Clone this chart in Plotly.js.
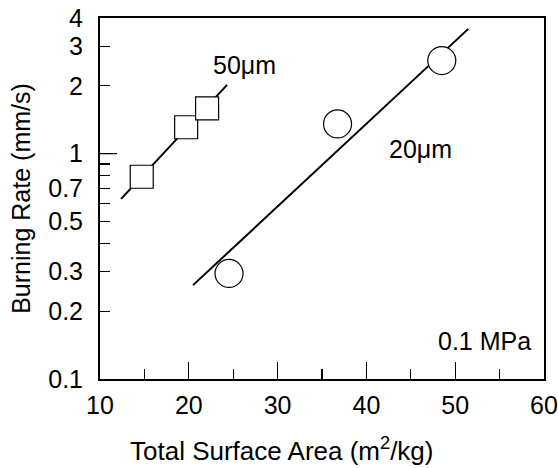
<!DOCTYPE html>
<html>
<head>
<meta charset="utf-8">
<script src="https://cdn.plot.ly/plotly-3.0.1.min.js"></script>
<style>html,body{margin:0;padding:0;background:#fff;}#chart{width:558px;height:468px;}</style>
</head>
<body>
<div id="chart"></div>
<script>
// 50 µm particles (squares) and fitted line
const area50 = [14.7, 19.7, 22.06];
const rate50 = [0.79, 1.31, 1.59];
const fitArea50 = [12.38, 24.31];
const fitRate50 = [0.63, 2.02];
// 20 µm particles (circles) and fitted line
const area20 = [24.53, 36.75, 48.49];
const rate20 = [0.294, 1.355, 2.59];
const fitArea20 = [20.48, 51.48];
const fitRate20 = [0.261, 3.58];
// axis ticks
const yTickVals = [0.1, 0.2, 0.3, 0.5, 0.7, 1, 2, 3, 4];
const yTickText = ['0.1', '0.2', '0.3', '0.5', '0.7', '1', '2', '3', '4'];
const yMinorVals = [0.4, 0.6, 0.8, 0.9];
const xTickVals = [10, 20, 30, 40, 50, 60];

const font = 'Liberation Sans, Arial, Helvetica, sans-serif';

const traces = [
  {x: fitArea50, y: fitRate50, mode: 'lines', line: {color: '#000', width: 2}, hoverinfo: 'skip'},
  {x: fitArea20, y: fitRate20, mode: 'lines', line: {color: '#000', width: 2}, hoverinfo: 'skip'},
  {x: area50, y: rate50, mode: 'markers',
   marker: {symbol: 'square', size: 23, color: '#fff', line: {color: '#000', width: 1.2}}},
  {x: area20, y: rate20, mode: 'markers',
   marker: {symbol: 'circle', size: 28, color: '#fff', line: {color: '#000', width: 1.2}}}
];

const layout = {
  width: 558, height: 468,
  margin: {l: 100, r: 14, t: 18, b: 89},
  paper_bgcolor: '#fff', plot_bgcolor: '#fff',
  showlegend: false,
  font: {family: font, color: '#000', size: 25},
  xaxis: {
    range: [10, 60], tickvals: xTickVals,
    ticks: 'inside', ticklen: 17, tickwidth: 1.2, tickcolor: '#000',
    minor: {dtick: 5, tick0: 10, ticks: 'inside', ticklen: 10, tickwidth: 1.2, tickcolor: '#000', showgrid: false},
    showline: true, linewidth: 2, linecolor: '#000', mirror: true,
    showgrid: false, zeroline: false,
    ticklabelstandoff: 3,
    tickfont: {size: 25, family: font}
  },
  yaxis: {
    type: 'log', range: [Math.log10(0.1), Math.log10(4)],
    tickvals: yTickVals, ticktext: yTickText,
    ticks: 'inside', ticklen: 10, tickwidth: 1.2, tickcolor: '#000',
    minor: {tickvals: yMinorVals, ticks: 'inside', ticklen: 10, tickwidth: 1.2, tickcolor: '#000', showgrid: false},
    showline: true, linewidth: 2, linecolor: '#000', mirror: true,
    showgrid: false, zeroline: false,
    ticklabelstandoff: 10,
    tickfont: {size: 25, family: font},
    title: {text: 'Burning Rate (mm/s)', font: {size: 25, family: font}, standoff: 10}
  },
  shapes: [
    {type: 'line', xref: 'paper', yref: 'y', x0: 0, x1: 17/444, y0: 1, y1: 1,
     line: {color: '#000', width: 1.2}}
  ],
  annotations: [
    {text: 'Total Surface Area (m<sup>2</sup>/kg)', xref: 'paper', yref: 'paper',
     x: (281-100)/444, y: -70/361, xanchor: 'center', yanchor: 'middle', showarrow: false,
     font: {size: 26, family: font}},
    {text: '50\u03bcm', x: 22.5, y: Math.log10(2.48), xanchor: 'left', yanchor: 'middle',
     showarrow: false, font: {size: 25, family: font}},
    {text: '20\u03bcm', x: 42.3, y: Math.log10(1.05), xanchor: 'left', yanchor: 'middle',
     showarrow: false, font: {size: 25, family: font}},
    {text: '0.1 MPa', x: 53.3, y: Math.log10(0.1475), xanchor: 'center', yanchor: 'middle',
     showarrow: false, font: {size: 25, family: font}}
  ]
};

Plotly.newPlot('chart', traces, layout, {displayModeBar: false, staticPlot: true});
</script>
</body>
</html>
